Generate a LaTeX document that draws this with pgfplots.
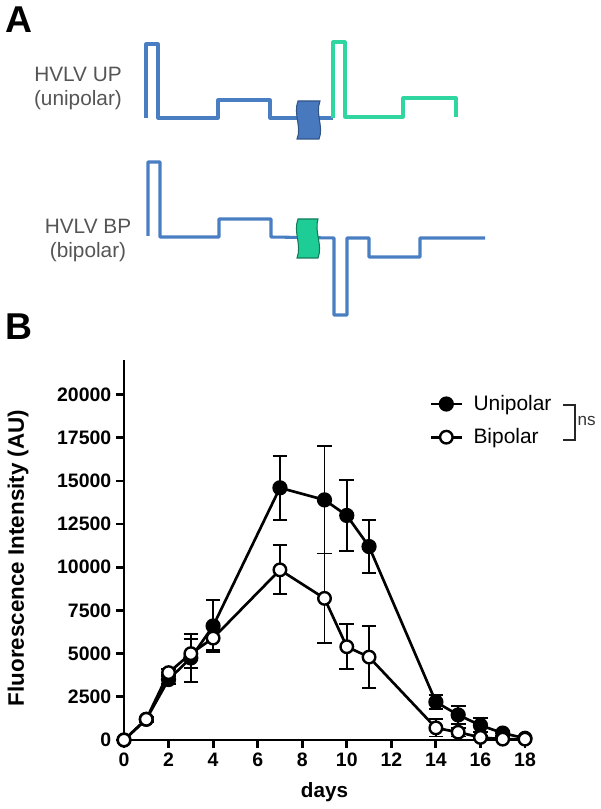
\documentclass[border=0pt]{standalone}
\usepackage{fontspec}
\setmainfont{Liberation Sans}
\usepackage{pgfplots}
\usepackage{pgfplotstable}
\pgfplotsset{compat=1.18}
\definecolor{wblue}{RGB}{74,126,194}
\definecolor{wgreen}{RGB}{48,214,160}
\definecolor{boxblue}{RGB}{72,120,190}
\definecolor{boxgreen}{RGB}{30,205,150}
\definecolor{txtgray}{RGB}{85,85,85}

\pgfplotstableread{
x y e
0 0 0
1 1200 150
2 3500 250
3 4750 1400
4 6600 1500
7 14600 1850
9 13900 3100
10 13000 2050
11 11200 1550
14 2200 400
15 1450 500
16 850 400
17 400 150
18 100 50
}\unipolar

\pgfplotstableread{
x y e
0 0 0
1 1200 100
2 3900 200
3 5000 850
4 5900 700
7 9850 1420
9 8200 2600
10 5400 1300
11 4800 1800
14 700 500
15 450 250
16 150 100
17 50 50
18 50 50
}\bipolar

\begin{document}
\begin{tikzpicture}
\path[use as bounding box] (0,0) rectangle (450pt,606.75pt);
% ---------- Panel A (pixel coordinates) ----------
\begin{axis}[at={(225pt,303.375pt)}, anchor=center, width=450pt, height=606.75pt,
  scale only axis, xmin=0, xmax=600, ymin=0, ymax=809, y dir=reverse,
  hide axis, clip=false]
\addplot[wblue, line width=2.3pt, line join=round, mark=none] coordinates {
 (146,118)(146,44)(158,44)(158,118)(218,118)(218,100)(270,100)(270,118)(333,118)};
\addplot[wgreen, line width=2.3pt, line join=round, mark=none] coordinates {
 (333,118)(333,42)(345,42)(345,117)(403,117)(403,98)(456,98)(456,117)};
\draw[fill=boxblue, draw=boxblue!70!black, line width=0.8pt]
 (298,101) .. controls (293,114) and (302,127) .. (297,139) -- (319,139)
 .. controls (324,127) and (315,114) .. (320,101) -- cycle;
\addplot[wblue, line width=2.3pt, line join=round, mark=none] coordinates {
 (148,236)(148,162)(160,162)(160,237)(219,237)(219,219)(271,219)(271,237)(334,238)
 (334,315)(347,315)(347,238)(369,238)(369,257)(420,257)(420,238)(485,238)};
\draw[fill=boxgreen, draw=boxgreen!60!black, line width=0.8pt]
 (298,219) .. controls (293,232) and (302,245) .. (297,258) -- (318,258)
 .. controls (323,245) and (314,232) .. (318,219) -- cycle;
\node[txtgray, align=center, font=\fontsize{15.6}{18}\selectfont] at (78,89) {HVLV UP\\(unipolar)};
\node[txtgray, align=center, font=\fontsize{15.6}{18}\selectfont] at (88,241) {HVLV BP\\(bipolar)};
\node[font=\fontsize{28}{30}\selectfont\bfseries] at (19,20) {A};
\node[font=\fontsize{28}{30}\selectfont\bfseries] at (19,327) {B};
\draw[line width=1.3pt, black!85] (563,405)--(575,405)--(575,440)--(563,440);
\node[anchor=west, black!80, font=\fontsize{12.8}{14}\selectfont, inner sep=1pt] at (576,421) {ns};
\end{axis}
% ---------- Panel B ----------
\begin{axis}[at={(93pt,51.75pt)}, anchor=south west, width=300.75pt, height=285pt,
  scale only axis, xmin=0, xmax=18, ymin=0, ymax=22000, clip=false,
  axis lines*=left, axis line style={-, line width=2.1pt},
  tick align=outside, major tick length=6pt, tick style={line width=2.1pt, black},
  xtick={0,2,...,18}, ytick={0,2500,5000,7500,10000,12500,15000,17500,20000},
  scaled y ticks=false,
  /pgf/number format/assume math mode=true,
  /pgf/number format/1000 sep={},
  tick label style={font=\fontsize{14.6}{16}\selectfont\bfseries},
  xlabel={days}, ylabel={Fluorescence Intensity (AU)},
  xlabel style={font=\fontsize{15.5}{18}\selectfont\bfseries, at={(axis description cs:0.5,-0.137)}, anchor=center},
  ylabel style={font=\fontsize{16.8}{18}\selectfont\bfseries, at={(axis description cs:-0.264,0.479)}, anchor=center},
  legend image code/.code={\draw[line width=2pt, mark repeat=2, mark phase=2] plot coordinates {(0cm,0cm)(0.4cm,0cm)(0.8cm,0cm)};},
  legend style={draw=none, fill=none, at={(axis description cs:0.752,0.925)}, anchor=north west,
    font=\fontsize{15.7}{18}\selectfont, row sep=6pt, column sep=5pt,
    nodes={inner sep=3pt}},
  legend cell align=left,
]
\addplot[black, line width=2pt, mark=*, mark size=4.7pt, mark options={solid, fill=black},
  error bars/.cd, y dir=both, y explicit,
  error bar style={line width=1.4pt},
  error mark options={rotate=90, mark size=5.5pt, line width=1.4pt}]
  table[x=x, y=y, y error=e] {\unipolar};
\addlegendentry{Unipolar}
\addplot[black, line width=2pt, mark=*, mark size=4.7pt, mark options={solid, fill=white, line width=1.8pt},
  error bars/.cd, y dir=both, y explicit,
  error bar style={line width=1.4pt},
  error mark options={rotate=90, mark size=5.5pt, line width=1.4pt}]
  table[x=x, y=y, y error=e] {\bipolar};
\addlegendentry{Bipolar}
\end{axis}
\end{tikzpicture}
\end{document}
